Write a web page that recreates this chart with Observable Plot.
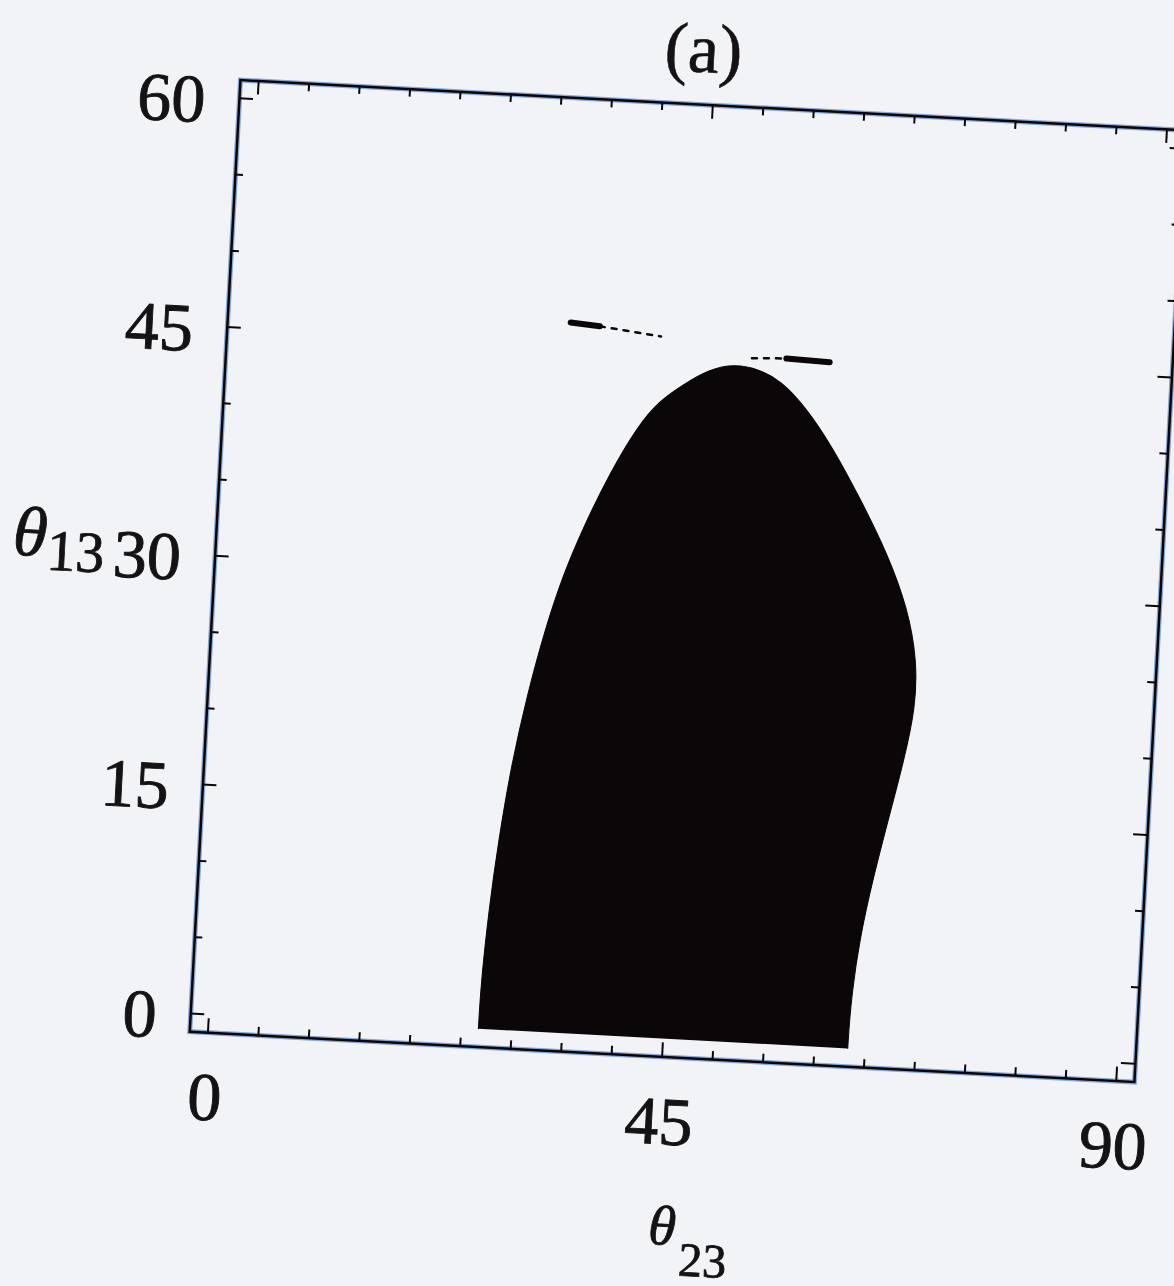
<!DOCTYPE html>
<html>
<head>
<meta charset="utf-8">
<script src="https://cdn.jsdelivr.net/npm/d3@7"></script>
<script src="https://cdn.jsdelivr.net/npm/@observablehq/plot@0.6"></script>
<style>
  html, body { margin: 0; padding: 0; background: #f2f3f7; overflow: hidden; }
  #chart { width: 1174px; height: 1286px; transform-origin: 686.5px 580px; transform: rotate(3.05deg); }
</style>
</head>
<body>
<div id="chart"></div>
<script>
// ---- data ----
// boundary of the allowed (black) region, θ23 (deg) and θ13 (deg), going up the left side and down the right side
const regionTheta23 = [26.7, 26.7, 26.75, 27.1, 27.7, 28.6, 29.8, 31.2, 32.7, 34.4, 36.7, 39.3, 41.3, 43.7, 46.0, 48.5, 51.0, 53.2, 55.6, 58.5, 61.8, 64.6, 66.9, 68.1, 68.2, 67.3, 66.1, 64.9, 63.9, 63.4, 63.3, 63.3];
const regionTheta13 = [0.0, 0.8, 3.3, 7.7, 12.4, 17.5, 22.1, 26.4, 30.0, 33.1, 36.7, 40.0, 41.7, 42.9, 43.9, 44.35, 44.1, 43.4, 41.9, 39.4, 35.8, 32.5, 29.0, 25.6, 22.5, 18.9, 15.1, 11.2, 7.2, 3.5, 0.8, 0.0];

// small streaks above the region
const streakTheta23 = [32.1, 35.0, 35.0, 41.1, 50.2, 53.6, 53.6, 57.9];
const streakTheta13 = [46.5, 46.35, 46.35, 45.9, 44.8, 44.9, 44.9, 44.8];
const streakPart    = ["a", "a", "b", "b", "c", "c", "d", "d"];
const streakWeight  = ["thick", "thick", "thin", "thin", "thin", "thin", "thick", "thick"];

// axes
const xDomain = [-1.8, 91.8];
const yDomain = [-1.2, 61.2];
const xTickLabels = [0, 45, 90];
const yTickLabels = [0, 15, 30, 45, 60];
const xMinorTicks = [5, 10, 15, 20, 25, 30, 35, 40, 50, 55, 60, 65, 70, 75, 80, 85];
const yMinorTicks = [5, 10, 20, 25, 35, 40, 50, 55];
const titleText = "(a)";
const xLabelParts = ["θ", "23"];
const yLabelParts = ["θ", "13"];

// ---- build ----
const region = regionTheta23.map((v, i) => ({theta23: v, theta13: regionTheta13[i]}));
const streaks = streakTheta23.map((v, i) => ({theta23: v, theta13: streakTheta13[i], part: streakPart[i], weight: streakWeight[i]}));

const W = 1174, Hgt = 1286;
const mL = 214, mR = 14, mT = 104, mB = 229;
const FW = W - mL - mR, FH = Hgt - mT - mB;
const ink = "#0b0608";
const txt = "#141214";
const fringe = "#86a6d8";
const majorLen = 14, minorLen = 8;
const serif = "'Liberation Serif', 'Times New Roman', serif";

const plot = Plot.plot({
  width: W,
  height: Hgt,
  marginLeft: mL,
  marginRight: mR,
  marginTop: mT,
  marginBottom: mB,
  x: {domain: xDomain, label: null},
  y: {domain: yDomain, label: null},
  style: {background: "#f2f3f7", color: txt, fontFamily: serif, fontSize: "68px"},
  marks: [
    Plot.line(region, {x: "theta23", y: "theta13", curve: "basis", fill: ink, stroke: ink, strokeWidth: 1}),
    Plot.line(streaks.filter(d => d.weight === "thick"), {x: "theta23", y: "theta13", z: "part", stroke: ink, strokeWidth: 6, strokeLinecap: "round"}),
    Plot.line(streaks.filter(d => d.weight === "thin"), {x: "theta23", y: "theta13", z: "part", stroke: ink, strokeWidth: 2.5, strokeDasharray: "5,7"}),
    // frame (blue scan fringe under the black line)
    Plot.frame({stroke: fringe, strokeWidth: 5}),
    Plot.frame({stroke: ink, strokeWidth: 2.5}),
    // inward frame ticks
    Plot.ruleX(xTickLabels, {x: d => d, insetTop: FH - majorLen, stroke: ink, strokeWidth: 2}),
    Plot.ruleX(xTickLabels, {x: d => d, insetBottom: FH - majorLen, stroke: ink, strokeWidth: 2}),
    Plot.ruleX(xMinorTicks, {x: d => d, insetTop: FH - minorLen, stroke: ink, strokeWidth: 2}),
    Plot.ruleX(xMinorTicks, {x: d => d, insetBottom: FH - minorLen, stroke: ink, strokeWidth: 2}),
    Plot.ruleY(yTickLabels, {y: d => d, insetRight: FW - majorLen, stroke: ink, strokeWidth: 2}),
    Plot.ruleY(yTickLabels, {y: d => d, insetLeft: FW - majorLen, stroke: ink, strokeWidth: 2}),
    Plot.ruleY(yMinorTicks, {y: d => d, insetRight: FW - minorLen, stroke: ink, strokeWidth: 2}),
    Plot.ruleY(yMinorTicks, {y: d => d, insetLeft: FW - minorLen, stroke: ink, strokeWidth: 2}),
    Plot.axisX(xTickLabels, {tickSize: 0, tickPadding: 39, fontSize: 68, label: null, textStroke: txt, textStrokeWidth: 0.9}),
    Plot.axisY(yTickLabels, {tickSize: 0, tickPadding: 34, fontSize: 68, dy: 4, label: null, textStroke: txt, textStrokeWidth: 0.9}),
    Plot.text([titleText], {text: d => d, frameAnchor: "top", dy: -55, dx: -12, lineAnchor: "middle", fontSize: 70, fill: txt, stroke: txt, strokeWidth: 0.6})
  ]
});

// axis titles with subscripts
const svg = d3.select(plot);
const yS = plot.scale("y");
const yT = svg.append("text")
  .attr("x", mL - 110)
  .attr("y", yS.apply(30) + 10)
  .attr("text-anchor", "end")
  .attr("fill", txt)
  .attr("stroke", txt)
  .attr("stroke-width", 0.8)
  .style("font-family", serif);
yT.append("tspan").attr("font-style", "italic").attr("font-size", 70).text(yLabelParts[0]);
yT.append("tspan").attr("font-size", 58).attr("dy", 13).text(yLabelParts[1]);

const xT = svg.append("text")
  .attr("x", 683)
  .attr("y", 1245)
  .attr("text-anchor", "start")
  .attr("fill", txt)
  .attr("stroke", txt)
  .attr("stroke-width", 0.8)
  .style("font-family", serif);
xT.append("tspan").attr("font-style", "italic").attr("font-size", 56).text(xLabelParts[0]);
xT.append("tspan").attr("font-size", 48).attr("dx", 4).attr("dy", 30).text(xLabelParts[1]);

document.getElementById("chart").append(plot);
</script>
</body>
</html>
